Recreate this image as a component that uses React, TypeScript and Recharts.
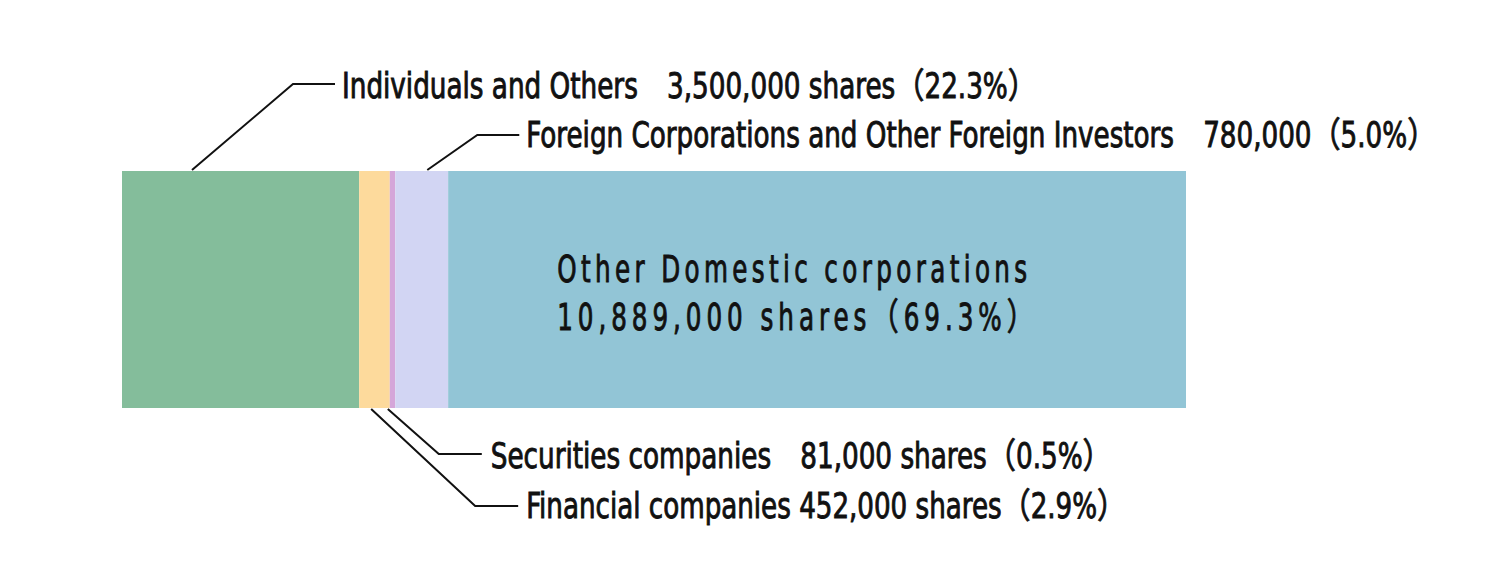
import React from 'react';
import { BarChart, Bar, XAxis, YAxis } from 'recharts';

const categories = ['Shareholders'];
const seriesKeys = ['individuals', 'financial', 'securities', 'foreign', 'domestic'];
const seriesNames = [
  'Individuals and Others',
  'Financial companies',
  'Securities companies',
  'Foreign Corporations and Other Foreign Investors',
  'Other Domestic corporations',
];
const shares = [3500000, 452000, 81000, 780000, 10889000];
const percents = ['22.3%', '2.9%', '0.5%', '5.0%', '69.3%'];
const shareTexts = ['3,500,000 shares', '452,000 shares', '81,000 shares', '780,000', '10,889,000 shares'];
const separators = ['\u3000', ' ', '\u3000', '\u3000', ''];
const colors = ['#84BD9B', '#FDDA9C', '#D5A6D9', '#D2D5F3', '#92C5D6'];

const data = categories.map((category) => {
  const row: Record<string, string | number> = { category };
  seriesKeys.forEach((k, i) => {
    row[k] = shares[i];
  });
  return row;
});

const FONT = "'DejaVu Sans Condensed', 'Liberation Sans Narrow', 'Noto Sans CJK JP', sans-serif";

// leader-line / text layout relative to each segment (offsets, not data)
type Layout = {
  side: 'top' | 'bottom' | 'inside';
  sx: number;
  ex: number;
  ey: number;
  hx: number;
  tx: number;
  ty: number;
  tl: number;
};
const layouts: Layout[] = [
  { side: 'top', sx: 70, ex: 171, ey: -87, hx: 213, tx: 220, ty: -73, tl: 695 },
  { side: 'bottom', sx: 12, ex: 116, ey: 98, hx: 159, tx: 167, ty: 110, tl: 600 },
  { side: 'bottom', sx: -2, ex: 49, ey: 46, hx: 92, tx: 101, ty: 60, tl: 621 },
  { side: 'top', sx: 32, ex: 82, ey: -36, hx: 124, tx: 131, ty: -24, tl: 910 },
  { side: 'inside', sx: 0, ex: 0, ey: 0, hx: 0, tx: 109, ty: 111, tl: 470 },
];

const SX = 0.74;

const ScaledText = ({
  x,
  y,
  size,
  len,
  adjust,
  children,
}: {
  x: number;
  y: number;
  size: number;
  len: number;
  adjust: 'spacing' | 'spacingAndGlyphs';
  children: string;
}) => (
  <g transform={`translate(${x},${y}) scale(${SX},1)`}>
    <text
      x={0}
      y={0}
      fontFamily={FONT}
      fontSize={size}
      fill="#111"
      stroke="#111"
      strokeWidth={0.9}
      textLength={len / SX}
      lengthAdjust={adjust}
    >
      {children}
    </text>
  </g>
);

const makeLabel = (i: number) => (props: any) => {
  const x = Number(props.x);
  const y = Number(props.y);
  const h = Number(props.height);
  const L = layouts[i];
  if (L.side === 'inside') {
    return (
      <g>
        <ScaledText x={x + L.tx} y={y + L.ty} size={37} len={470} adjust="spacing">
          {seriesNames[i]}
        </ScaledText>
        <ScaledText x={x + L.tx} y={y + L.ty + 48} size={37} len={477} adjust="spacing">
          {`${shareTexts[i]}（${percents[i]}）`}
        </ScaledText>
      </g>
    );
  }
  const baseY = L.side === 'top' ? y - 1 : y + h + 1;
  const refY = L.side === 'top' ? y : y + h;
  const ex = x + L.ex;
  const ey = refY + L.ey;
  return (
    <g>
      <polyline
        points={`${x + L.sx},${baseY} ${ex},${ey} ${x + L.hx},${ey}`}
        fill="none"
        stroke="#111"
        strokeWidth={2}
      />
      <ScaledText x={x + L.tx} y={refY + L.ty} size={35} len={L.tl} adjust="spacingAndGlyphs">
        {`${seriesNames[i]}${separators[i]}${shareTexts[i]}（${percents[i]}）`}
      </ScaledText>
    </g>
  );
};

export default function App() {
  return (
    <div style={{ width: 1473, height: 557, background: '#fff' }}>
      <BarChart
        width={1473}
        height={557}
        data={data}
        layout="vertical"
        margin={{ top: 163, right: 295, bottom: 157, left: 114 }}
        barCategoryGap={0}
      >
        <XAxis type="number" hide domain={[0, 'dataMax']} />
        <YAxis type="category" dataKey="category" hide width={0} />
        {seriesKeys.map((k, i) => (
          <Bar
            key={k}
            dataKey={k}
            stackId="s"
            fill={colors[i]}
            isAnimationActive={false}
            label={makeLabel(i)}
          />
        ))}
      </BarChart>
    </div>
  );
}
